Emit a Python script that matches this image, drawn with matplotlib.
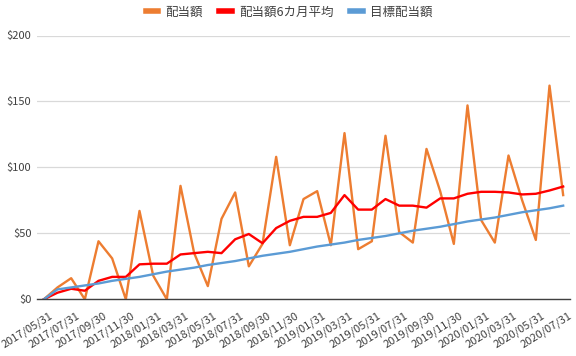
import matplotlib
matplotlib.use("Agg")
import matplotlib.pyplot as plt
import matplotlib.transforms as mtransforms
from matplotlib.ticker import FuncFormatter, MultipleLocator

plt.rcParams['font.family'] = ['Noto Sans CJK JP', 'DejaVu Sans']

months = ["2017/05/31", "2017/06/30", "2017/07/31", "2017/08/31", "2017/09/30", "2017/10/31",
          "2017/11/30", "2017/12/31", "2018/01/31", "2018/02/28", "2018/03/31", "2018/04/30",
          "2018/05/31", "2018/06/30", "2018/07/31", "2018/08/31", "2018/09/30", "2018/10/31",
          "2018/11/30", "2018/12/31", "2019/01/31", "2019/02/28", "2019/03/31", "2019/04/30",
          "2019/05/31", "2019/06/30", "2019/07/31", "2019/08/31", "2019/09/30", "2019/10/31",
          "2019/11/30", "2019/12/31", "2020/01/31", "2020/02/29", "2020/03/31", "2020/04/30",
          "2020/05/31", "2020/06/30", "2020/07/31"]

dividend = [0, 9, 16, 0, 44, 31, 0, 67, 18, 0, 86, 35, 10, 61, 81, 25, 42, 108, 41, 76,
            82, 41, 126, 38, 44, 124, 51, 43, 114, 82, 42, 147, 60, 43, 109, 75, 45, 162, 79]
avg6 = [0, 5, 8, 6.5, 14, 17, 17, 26.5, 27, 27, 34, 35, 36, 35, 45.5, 49.5, 42.5, 54, 59.5,
        62.5, 62.5, 65.5, 79, 68, 68, 76, 71, 71, 69.5, 76.5, 76.5, 80, 81.5, 81.5, 81, 79.5,
        80, 82.5, 85.5]
target = [0, 7.5, 9, 10.5, 12, 14, 15.5, 17, 19, 21, 22.5, 24, 26, 27.5, 29, 31, 33, 34.5,
          36, 38, 40, 41.5, 43, 45, 46.5, 48, 50, 52, 53.5, 55, 57, 59, 60.5, 62, 64, 66,
          67.5, 69, 71]

labels = ["配当額", "配当額6カ月平均", "目標配当額"]
colors = ["#ED7D31", "#FF0000", "#5B9BD5"]

fig = plt.figure(figsize=(5.76, 3.56), dpi=100)
ax = fig.add_axes([37/576, 1-299.3/356, 533/576, 263.8/356])

x = list(range(len(months)))
ax.plot(x, dividend, color=colors[0], lw=1.7, label=labels[0], solid_joinstyle='round')
ax.plot(x, avg6, color=colors[1], lw=1.7, label=labels[1], solid_joinstyle='round')
ax.plot(x, target, color=colors[2], lw=1.7, label=labels[2], solid_joinstyle='round')

ax.set_xlim(-0.5, len(months) - 0.5)
ax.set_ylim(0, 200)
ax.yaxis.set_major_locator(MultipleLocator(50))
ax.yaxis.set_major_formatter(FuncFormatter(lambda v, p: f"${int(v)}"))
ax.grid(axis='y', color='#d9d9d9', lw=0.9)
ax.set_axisbelow(True)
for s in ['top', 'right', 'left']:
    ax.spines[s].set_visible(False)
ax.spines['bottom'].set_color('#404040')
ax.spines['bottom'].set_linewidth(1.0)

ax.set_xticks(x[::2])
ax.set_xticklabels(months[::2], rotation=32, ha='right', va='top', rotation_mode='anchor',
                   fontsize=8, color='#404040')
ax.tick_params(axis='x', length=0, pad=8)
ax.tick_params(axis='y', length=0, pad=4, labelsize=8, labelcolor='#404040')

offset = mtransforms.ScaledTranslation(5/100, 0, fig.dpi_scale_trans)
for t in ax.get_xticklabels():
    t.set_transform(t.get_transform() + offset)

leg = fig.legend(loc='center', bbox_to_anchor=(289/576, 1-12/356), ncol=3, frameon=False,
                 fontsize=9, handlelength=1.0, handletextpad=0.6, columnspacing=1.3)
for h in leg.get_lines():
    h.set_linewidth(4)
for t in leg.get_texts():
    t.set_color('#404040')

fig.savefig("out.png", dpi=100)
